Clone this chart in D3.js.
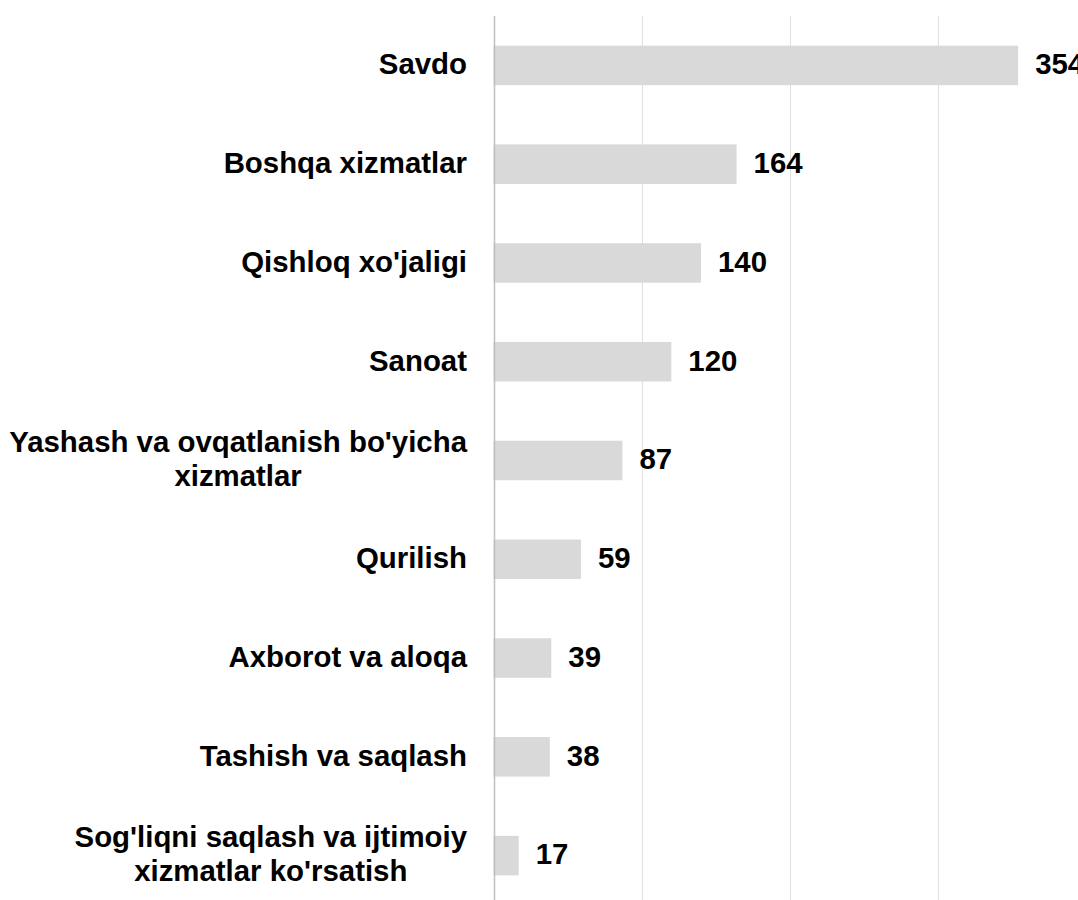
<!DOCTYPE html>
<html>
<head>
<meta charset="utf-8">
<script src="https://d3js.org/d3.v7.min.js"></script>
<style>
body { margin: 0; background: #fff; }
text { font-family: 'Liberation Sans', Arial, sans-serif; font-weight: bold; fill: #000; }
</style>
</head>
<body>
<svg></svg>
<script>
    // chart data
    var categories = [
        ['Savdo'],
        ['Boshqa xizmatlar'],
        ["Qishloq xo'jaligi"],
        ['Sanoat'],
        ["Yashash va ovqatlanish bo'yicha", 'xizmatlar'],
        ['Qurilish'],
        ['Axborot va aloqa'],
        ['Tashish va saqlash'],
        ["Sog'liqni saqlash va ijtimoiy", "xizmatlar ko'rsatish"]
    ];
    var values = [354, 164, 140, 120, 87, 59, 39, 38, 17];
    var gridTicks = [100, 200, 300, 400];

    var vWidth = 1078;
    var vHeight = 900;
    var fontSize = 29.4;

    var svg = d3.select('svg')
        .attr('width', vWidth)
        .attr('height', vHeight);

    var x = d3.scaleLinear().domain([0, 400]).range([493.5, 1086.3]);
    var y = d3.scaleBand()
        .domain(d3.range(categories.length))
        .range([16, 905])
        .paddingInner(0.6)
        .paddingOuter(0.3);

    // gridlines
    svg.append('g').selectAll('line').data(gridTicks).enter().append('line')
        .attr('x1', function (d) { return Math.round(x(d)) + 0.5; })
        .attr('x2', function (d) { return Math.round(x(d)) + 0.5; })
        .attr('y1', 16).attr('y2', vHeight)
        .attr('stroke', '#e0e0e0').attr('stroke-width', 1);

    // bars
    svg.append('g').selectAll('rect').data(values).enter().append('rect')
        .attr('x', x(0))
        .attr('y', function (d, i) { return y(i); })
        .attr('width', function (d) { return x(d) - x(0); })
        .attr('height', y.bandwidth())
        .attr('fill', '#d9d9d9');

    // axis line
    svg.append('line')
        .attr('x1', Math.round(x(0)) + 0.5).attr('x2', Math.round(x(0)) + 0.5)
        .attr('y1', 16).attr('y2', vHeight)
        .attr('stroke', '#bfbfbf').attr('stroke-width', 1.5);

    // value labels
    svg.append('g').selectAll('text').data(values).enter().append('text')
        .attr('x', function (d) { return x(d) + 17; })
        .attr('y', function (d, i) { return y(i) + y.bandwidth() / 2; })
        .attr('dy', '0.3em')
        .style('font-size', fontSize + 'px')
        .text(function (d) { return d; });

    // category labels, centred block with right edge near the axis
    var rightEdge = 467;
    var lineH = 34;
    var labels = svg.append('g').selectAll('text').data(categories).enter().append('text')
        .style('font-size', fontSize + 'px')
        .attr('text-anchor', 'middle');

    labels.each(function (lines, i) {
        var t = d3.select(this);
        var cy = y(i) + y.bandwidth() / 2;
        var y0 = cy - (lines.length - 1) * lineH / 2;
        lines.forEach(function (s, k) {
            t.append('tspan').attr('y', y0 + k * lineH).attr('dy', '0.3em').text(s);
        });
        var maxW = 0;
        t.selectAll('tspan').each(function () {
            maxW = Math.max(maxW, this.getComputedTextLength());
        });
        t.selectAll('tspan').attr('x', rightEdge - maxW / 2);
    });
</script>
</body>
</html>
